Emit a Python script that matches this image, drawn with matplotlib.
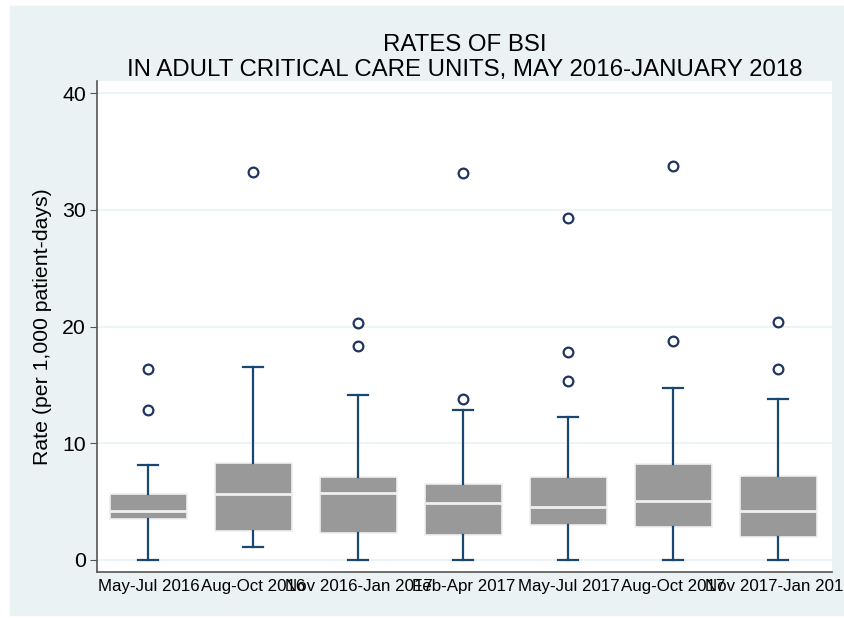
import matplotlib.pyplot as plt
from matplotlib.patches import Rectangle

# quarters and box statistics
periods = ['May-Jul 2016', 'Aug-Oct 2016', 'Nov 2016-Jan 2017', 'Feb-Apr 2017',
           'May-Jul 2017', 'Aug-Oct 2017', 'Nov 2017-Jan 2018']
whisk_lo = [0.0, 1.1, 0.0, 0.0, 0.0, 0.0, 0.0]
q1 = [3.5, 2.5, 2.3, 2.1, 3.0, 2.85, 2.0]
median = [4.2, 5.65, 5.7, 4.9, 4.55, 5.05, 4.2]
q3 = [5.65, 8.3, 7.1, 6.5, 7.1, 8.2, 7.2]
whisk_hi = [8.15, 16.5, 14.1, 12.85, 12.25, 14.7, 13.8]
outliers = [[16.35, 12.85], [33.2], [20.3, 18.3], [33.15, 13.8],
            [29.3, 17.8, 15.3], [33.75, 18.8], [20.4, 16.35]]

bg = '#eaf2f3'
navy = '#1a476f'

plt.rcParams['font.family'] = ['Liberation Sans', 'DejaVu Sans']

fig = plt.figure(figsize=(8.45, 6.19), dpi=100)
fig.patches.append(Rectangle((10 / 845, 4 / 619), 1, 1 - 10 / 619,
                             transform=fig.transFigure, color=bg, zorder=-10))
ax = fig.add_axes([97 / 845, 47 / 619, 735 / 845, 491 / 619])

stats = []
for i in range(len(periods)):
    stats.append({'label': periods[i], 'whislo': whisk_lo[i], 'q1': q1[i],
                  'med': median[i], 'q3': q3[i], 'whishi': whisk_hi[i],
                  'fliers': outliers[i]})

ax.bxp(stats, positions=range(len(periods)), widths=0.74, capwidths=0.19,
       patch_artist=True,
       boxprops=dict(facecolor='#999999', edgecolor='#f0f0f0', linewidth=1.2),
       medianprops=dict(color='#f0f0f0', linewidth=2),
       whiskerprops=dict(color=navy, linewidth=1.6),
       capprops=dict(color=navy, linewidth=1.6),
       flierprops=dict(marker='o', markerfacecolor='none', markeredgecolor='#1f3560',
                       markersize=7, markeredgewidth=1.6))

ax.set_xlim(-0.49, 6.51)
ax.set_ylim(-1.03, 41.03)
ax.set_yticks([0, 10, 20, 30, 40])
ax.tick_params(axis='y', labelsize=15.3, length=5, color='#555555', pad=3)
ax.tick_params(axis='x', labelsize=12.2, length=0, pad=5)
ax.yaxis.grid(True, color=bg, linewidth=1.2)
ax.set_axisbelow(True)
for s in ['top', 'right']:
    ax.spines[s].set_visible(False)
for s in ['left', 'bottom']:
    ax.spines[s].set_color('#555555')
    ax.spines[s].set_linewidth(1.2)

ax.set_ylabel('Rate (per 1,000 patient-days)', fontsize=15.3, labelpad=7)
ax.set_title('RATES OF BSI\nIN ADULT CRITICAL CARE UNITS, MAY 2016-JANUARY 2018',
             fontsize=17.3, linespacing=1.2, pad=3)

fig.savefig('out.png', dpi=100)
